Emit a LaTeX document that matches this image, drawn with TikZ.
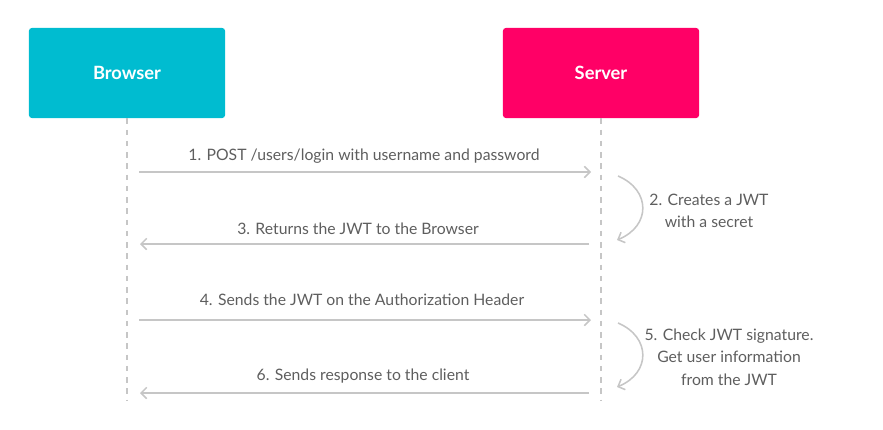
\documentclass[tikz,border=0pt]{standalone}
\usepackage{fontspec}
\setmainfont{Lato}
\usepackage{xcolor}
\usetikzlibrary{arrows.meta, positioning}
\definecolor{browsercyan}{HTML}{00BCD0}
\definecolor{serverpink}{HTML}{FF0066}
\definecolor{textgray}{HTML}{5E5E5E}
\definecolor{arrowgray}{HTML}{C6C6C6}

\begin{document}
\begin{tikzpicture}[
    x=0.025cm, y=-0.025cm,
    actor/.style={rectangle, rounded corners=2pt, minimum width=4.9cm, minimum height=2.25cm, text=white, font=\fontsize{13}{15}\selectfont\bfseries},
    lifeline/.style={draw=arrowgray, line width=0.9pt, dash pattern=on 4pt off 4pt},
    msg/.style={-{Straight Barb[length=4pt,width=8pt]}, draw=arrowgray, line width=1.1pt},
    msgtext/.style={text=textgray, font=\fontsize{11.2}{13}\selectfont},
    notetext/.style={text=textgray, align=center, font=\fontsize{11.2}{16}\selectfont}
]
    \useasboundingbox (0,0) rectangle (883,429);

    \node[actor, fill=browsercyan] (browser) at (127,73) {Browser};
    \node[actor, fill=serverpink] (server) at (601,73) {Server};

    \coordinate (bend) at (127,400);
    \coordinate (send) at (601,400);
    \draw[lifeline] (browser.south) -- (bend);
    \draw[lifeline] (server.south) -- (send);

    % requests and responses
    \coordinate (m1s) at (139,172);
    \coordinate (m1e) at (591,172);
    \coordinate (m3s) at (589,244);
    \coordinate (m3e) at (140,244);
    \coordinate (m4s) at (139,320);
    \coordinate (m4e) at (591,320);
    \coordinate (m6s) at (589,393);
    \coordinate (m6e) at (140,393);

    \node[msgtext] (t1) at (364,156) {1. POST /users/login with username and password};
    \node[msgtext] (t3) at (358,229) {3. Returns the JWT to the Browser};
    \node[msgtext] (t4) at (362,300) {4. Sends the JWT on the Authorization Header};
    \node[msgtext] (t6) at (363,376) {6. Sends response to the client};

    \draw[msg] (m1s) -- (m1e);
    \draw[msg] (m3s) -- (m3e);
    \draw[msg] (m4s) -- (m4e);
    \draw[msg] (m6s) -- (m6e);

    % server side work
    \coordinate (c2s) at (618,176);
    \coordinate (c2e) at (617,240);
    \coordinate (c5s) at (618,323);
    \coordinate (c5e) at (617,387);
    \draw[msg] (c2s) .. controls (651,190) and (651,226) .. (c2e);
    \draw[msg] (c5s) .. controls (651,337) and (651,373) .. (c5e);

    \node[notetext] (n2) at (709,211) {2. Creates a JWT\\with a secret};
    \node[notetext] (n5) at (729,357) {5. Check JWT signature.\\Get user information\\from the JWT};
\end{tikzpicture}
\end{document}
